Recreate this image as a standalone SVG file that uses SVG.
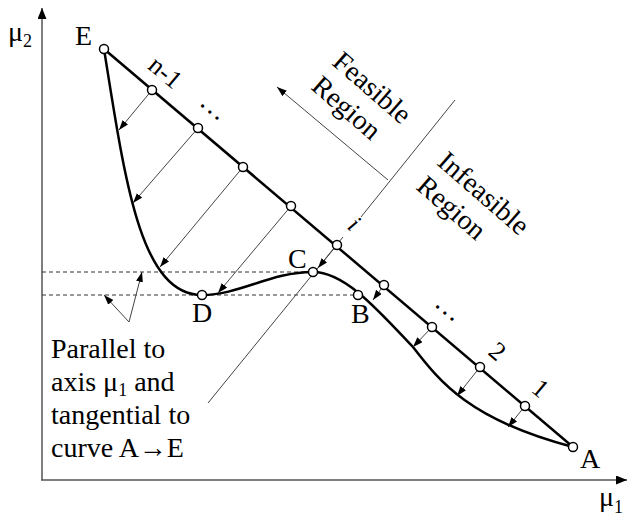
<svg xmlns="http://www.w3.org/2000/svg" width="628" height="517" viewBox="0 0 628 517">
<defs>
<marker id="ah" markerWidth="11" markerHeight="8" refX="10" refY="3.5" orient="auto" markerUnits="userSpaceOnUse">
<path d="M0,0 L10,3.5 L0,7 z" fill="#000"/>
</marker>
<marker id="axh" markerWidth="12" markerHeight="10" refX="11" refY="4.5" orient="auto" markerUnits="userSpaceOnUse">
<path d="M0,0 L11,4.5 L0,9 z" fill="#000"/>
</marker>
<style>
.axis{stroke:#555;stroke-width:1.5;fill:none}
.thin{stroke:#444;stroke-width:1;fill:none}
.dash{stroke:#333;stroke-width:1;stroke-dasharray:4 3;fill:none}
.bold{stroke:#000;stroke-width:2.5;fill:none}
.pt{fill:#fff;stroke:#000;stroke-width:1.5}
</style>
</defs>
<rect width="628" height="517" fill="#fff"/>
<g id="axes">
<line class="axis" x1="42" y1="480" x2="42" y2="8" marker-end="url(#axh)"/>
<line class="axis" x1="41" y1="480" x2="627" y2="480" marker-end="url(#axh)"/>
</g>
<g id="connectors">
<line class="dash" x1="42" y1="272" x2="313" y2="272"/>
<line class="dash" x1="42" y1="295" x2="358" y2="295"/>
<line class="thin" x1="455" y1="100" x2="361" y2="217"/>
<line class="thin" x1="343" y1="237" x2="208" y2="403"/>
<line class="thin" x1="388" y1="180" x2="277" y2="87" marker-end="url(#ah)"/>
<line class="thin" x1="129" y1="322" x2="104" y2="295" marker-end="url(#ah)"/>
<line class="thin" x1="129" y1="322" x2="142" y2="272" marker-end="url(#ah)"/>
<path id="curve" class="bold" d="M104,49 C125,180 140,295 202,295 C240,295 270,272 313,272 C345,272 378,310 413,347 C440,382 470,420 573,447"/>
<line id="chord" class="bold" x1="104" y1="49" x2="573" y2="447"/>
<line class="thin" x1="152" y1="90" x2="119" y2="130" marker-end="url(#ah)"/>
<line class="thin" x1="198" y1="128" x2="133" y2="203" marker-end="url(#ah)"/>
<line class="thin" x1="243" y1="167" x2="160" y2="267" marker-end="url(#ah)"/>
<line class="thin" x1="291" y1="206" x2="218" y2="293" marker-end="url(#ah)"/>
<line class="thin" x1="337" y1="245" x2="318" y2="268" marker-end="url(#ah)"/>
<line class="thin" x1="384" y1="285" x2="373" y2="300" marker-end="url(#ah)"/>
<line class="thin" x1="432" y1="327" x2="413" y2="347" marker-end="url(#ah)"/>
<line class="thin" x1="480" y1="367" x2="457" y2="396" marker-end="url(#ah)"/>
<line class="thin" x1="525" y1="406" x2="508" y2="427" marker-end="url(#ah)"/>
</g>
<g font-family="Liberation Serif, Times New Roman, serif" font-size="28" fill="#000">
<g id="axislabels">
<text x="8" y="41">μ<tspan font-size="18" dy="6">2</tspan></text>
<text x="599" y="506">μ<tspan font-size="18" dy="7">1</tspan></text>
</g>
<g id="nodeE"><circle class="pt" cx="104" cy="49" r="4.5"/><text x="75" y="45">E</text></g>
<g id="nodeA"><circle class="pt" cx="573" cy="447" r="4.5"/><text x="580" y="468">A</text></g>
<g id="nodeB"><circle class="pt" cx="358" cy="295" r="4.5"/><text x="351" y="323">B</text></g>
<g id="nodeC"><circle class="pt" cx="313" cy="272" r="4.5"/><text x="288" y="268">C</text></g>
<g id="nodeD"><circle class="pt" cx="202" cy="295" r="4.5"/><text x="192" y="322">D</text></g>
<g id="p_n1"><circle class="pt" cx="152" cy="90" r="4.5"/><text font-size="26" text-anchor="middle" transform="translate(160,79) rotate(40)">n-1</text></g>
<g id="p_a"><circle class="pt" cx="198" cy="128" r="4.5"/><text text-anchor="middle" transform="translate(209,113) rotate(40)">…</text></g>
<g id="p_b"><circle class="pt" cx="243" cy="167" r="4.5"/></g>
<g id="p_c"><circle class="pt" cx="291" cy="206" r="4.5"/></g>
<g id="p_i"><circle class="pt" cx="337" cy="245" r="4.5"/><text font-size="25" font-style="italic" text-anchor="middle" transform="translate(349,230) rotate(40)">i</text></g>
<g id="p_d"><circle class="pt" cx="384" cy="285" r="4.5"/></g>
<g id="p_e"><circle class="pt" cx="432" cy="327" r="4.5"/><text text-anchor="middle" transform="translate(444,314) rotate(40)">…</text></g>
<g id="p_2"><circle class="pt" cx="480" cy="367" r="4.5"/><text font-size="26" text-anchor="middle" transform="translate(492,358) rotate(40)">2</text></g>
<g id="p_1"><circle class="pt" cx="525" cy="406" r="4.5"/><text font-size="26" text-anchor="middle" transform="translate(535,395) rotate(40)">1</text></g>
<g id="feasible"><text transform="translate(331,64) rotate(41)"><tspan x="0" y="0">Feasible</tspan><tspan x="0" y="32">Region</tspan></text></g>
<g id="infeasible"><text transform="translate(436,164) rotate(41)"><tspan x="0" y="0">Infeasible</tspan><tspan x="0" y="32">Region</tspan></text></g>
<g id="note">
<text x="51" y="358">Parallel to</text>
<text x="51" y="391">axis μ<tspan font-size="18" dy="5">1</tspan><tspan dy="-5"> and</tspan></text>
<text x="51" y="424">tangential to</text>
<text x="51" y="457">curve A→E</text>
</g>
</g>
</svg>
